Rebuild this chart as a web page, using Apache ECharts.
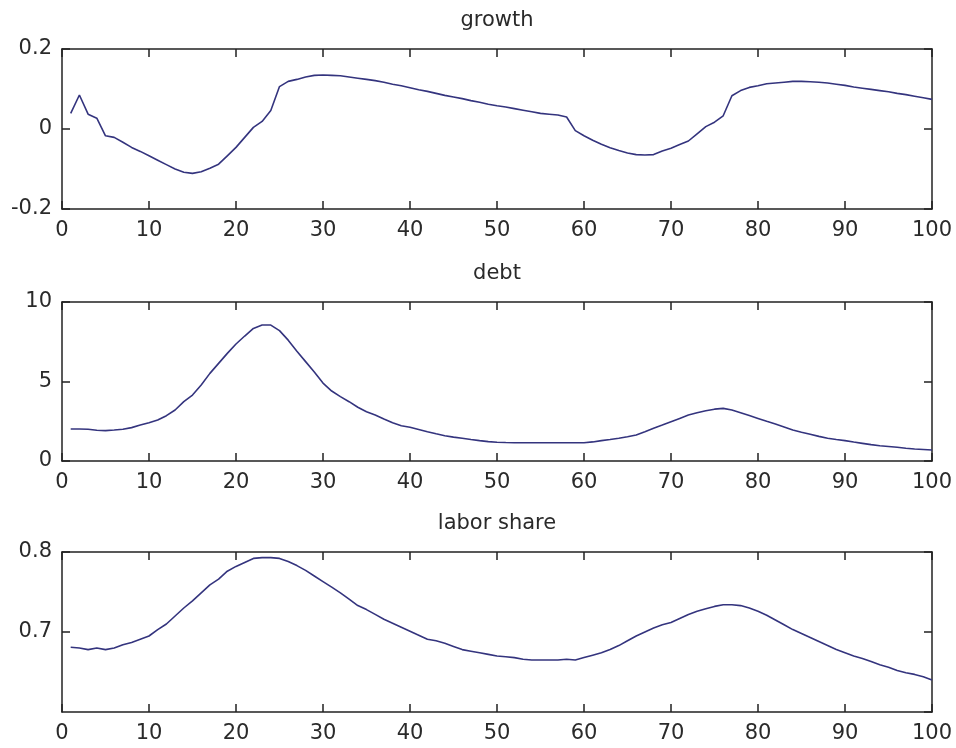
<!DOCTYPE html>
<html><head><meta charset="utf-8">
<script src="https://cdn.jsdelivr.net/npm/echarts@6/dist/echarts.min.js"></script>
<style>html,body{margin:0;padding:0;background:#fff}#c{width:956px;height:748px}</style>
</head><body><div id="c"></div>
<script>
const titles = ['growth', 'debt', 'labor share'];
const periods = [];
for (let i = 1; i <= 100; i++) periods.push(i);

const growth = [
  0.039, 0.085, 0.037, 0.027, -0.017, -0.021, -0.033, -0.046, -0.056, -0.067,
  -0.078, -0.089, -0.100, -0.108, -0.111, -0.107, -0.098, -0.088, -0.067, -0.046,
  -0.021, 0.004, 0.019, 0.046, 0.106, 0.119, 0.124, 0.130, 0.134, 0.135,
  0.134, 0.133, 0.130, 0.127, 0.124, 0.121, 0.117, 0.112, 0.108, 0.103,
  0.098, 0.094, 0.089, 0.084, 0.080, 0.076, 0.071, 0.067, 0.062, 0.058,
  0.055, 0.051, 0.047, 0.043, 0.039, 0.037, 0.035, 0.030, -0.004, -0.017,
  -0.028, -0.038, -0.047, -0.054, -0.060, -0.064, -0.065, -0.064, -0.055, -0.048,
  -0.039, -0.030, -0.012, 0.006, 0.017, 0.033, 0.083, 0.096, 0.104, 0.108,
  0.113, 0.115, 0.117, 0.119, 0.119, 0.118, 0.117, 0.115, 0.112, 0.109,
  0.105, 0.102, 0.099, 0.096, 0.093, 0.089, 0.086, 0.082, 0.078, 0.074
];
const debt = [
  2.01, 2.01, 2.00, 1.93, 1.91, 1.95, 2.00, 2.10, 2.26, 2.41,
  2.58, 2.85, 3.21, 3.73, 4.15, 4.78, 5.51, 6.14, 6.77, 7.36,
  7.86, 8.34, 8.55, 8.55, 8.20, 7.60, 6.90, 6.25, 5.60, 4.90,
  4.40, 4.05, 3.73, 3.38, 3.10, 2.89, 2.64, 2.40, 2.22, 2.12,
  1.98, 1.84, 1.71, 1.59, 1.50, 1.43, 1.35, 1.28, 1.22, 1.18,
  1.16, 1.15, 1.15, 1.15, 1.15, 1.15, 1.15, 1.15, 1.15, 1.15,
  1.20, 1.28, 1.35, 1.43, 1.52, 1.64, 1.84, 2.06, 2.26, 2.47,
  2.68, 2.89, 3.03, 3.16, 3.26, 3.31, 3.21, 3.04, 2.86, 2.68,
  2.50, 2.33, 2.14, 1.95, 1.81, 1.68, 1.55, 1.43, 1.35, 1.28,
  1.19, 1.11, 1.03, 0.96, 0.91, 0.86, 0.80, 0.75, 0.72, 0.69
];
const laborShare = [
  0.681, 0.680, 0.678, 0.680, 0.678, 0.680, 0.684, 0.687, 0.691, 0.695,
  0.703, 0.710, 0.720, 0.730, 0.739, 0.749, 0.759, 0.766, 0.776, 0.782,
  0.787, 0.792, 0.793, 0.793, 0.792, 0.788, 0.783, 0.777, 0.770, 0.763,
  0.756, 0.749, 0.741, 0.733, 0.728, 0.722, 0.716, 0.711, 0.706, 0.701,
  0.696, 0.691, 0.689, 0.686, 0.682, 0.678, 0.676, 0.674, 0.672, 0.670,
  0.669, 0.668, 0.666, 0.665, 0.665, 0.665, 0.665, 0.666, 0.665, 0.668,
  0.671, 0.674, 0.678, 0.683, 0.689, 0.695, 0.700, 0.705, 0.709, 0.712,
  0.717, 0.722, 0.726, 0.729, 0.732, 0.734, 0.734, 0.733, 0.730, 0.726,
  0.721, 0.715, 0.709, 0.703, 0.698, 0.693, 0.688, 0.683, 0.678, 0.674,
  0.670, 0.667, 0.663, 0.659, 0.656, 0.652, 0.649, 0.647, 0.644, 0.640
];
const xMin = 0, xMax = 100, xStep = 10;
const yMins = [-0.2, 0, 0.6];
const yMaxs = [0.2, 10, 0.8];
const ySteps = [0.2, 5, 0.1];

const seriesData = [growth, debt, laborShare];
const gridTops = [49, 302, 552];
const gridHeights = [160, 159, 160];
const titleTops = [10, 263, 513];

const axisColor = '#222';
const textColor = '#2a2a2a';
const font = 'DejaVu Sans';
const fontSize = 21;
const lineCol = '#34347e';

const grids = [], xAxes = [], yAxes = [], series = [], titleOpts = [];
for (let i = 0; i < 3; i++) {
  grids.push({ left: 62, width: 870, top: gridTops[i], height: gridHeights[i], containLabel: false });
  titleOpts.push({ text: titles[i], left: 497, top: titleTops[i], textAlign: 'center', padding: 0,
    textStyle: { fontFamily: font, fontSize: fontSize, fontWeight: 'normal', color: textColor } });
  const common = {
    type: 'value', gridIndex: i, min: xMin, max: xMax, interval: xStep,
    axisLine: { show: true, onZero: false, lineStyle: { color: axisColor, width: 1.5 } },
    axisTick: { show: true, inside: true, length: 8, lineStyle: { color: axisColor, width: 1.5 } },
    splitLine: { show: false }
  };
  xAxes.push(Object.assign({}, common, { position: 'bottom',
    axisLabel: { show: true, margin: 11, fontFamily: font, fontSize: fontSize, color: textColor } }));
  xAxes.push(Object.assign({}, common, { position: 'top', axisLabel: { show: false } }));
  const ycommon = {
    type: 'value', gridIndex: i, min: yMins[i], max: yMaxs[i], interval: ySteps[i],
    axisLine: { show: true, onZero: false, lineStyle: { color: axisColor, width: 1.5 } },
    axisTick: { show: true, inside: true, length: 8, lineStyle: { color: axisColor, width: 1.5 } },
    splitLine: { show: false }
  };
  yAxes.push(Object.assign({}, ycommon, { position: 'left',
    axisLabel: { show: true, margin: 10, fontFamily: font, fontSize: fontSize, color: textColor,
      showMinLabel: i !== 2,
      formatter: v => String(Math.round(v * 1000) / 1000) } }));
  yAxes.push(Object.assign({}, ycommon, { position: 'right', axisLabel: { show: false } }));
  series.push({
    type: 'line', xAxisIndex: 2 * i, yAxisIndex: 2 * i, showSymbol: false, symbol: 'none',
    data: seriesData[i].map((v, k) => [periods[k], v]),
    lineStyle: { color: lineCol, width: 1.6 }, animation: false
  });
}

const chart = echarts.init(document.getElementById('c'), null, { renderer: 'canvas' });
chart.setOption({
  backgroundColor: '#ffffff',
  animation: false,
  title: titleOpts,
  grid: grids,
  xAxis: xAxes,
  yAxis: yAxes,
  series: series
});
</script>
</body></html>
